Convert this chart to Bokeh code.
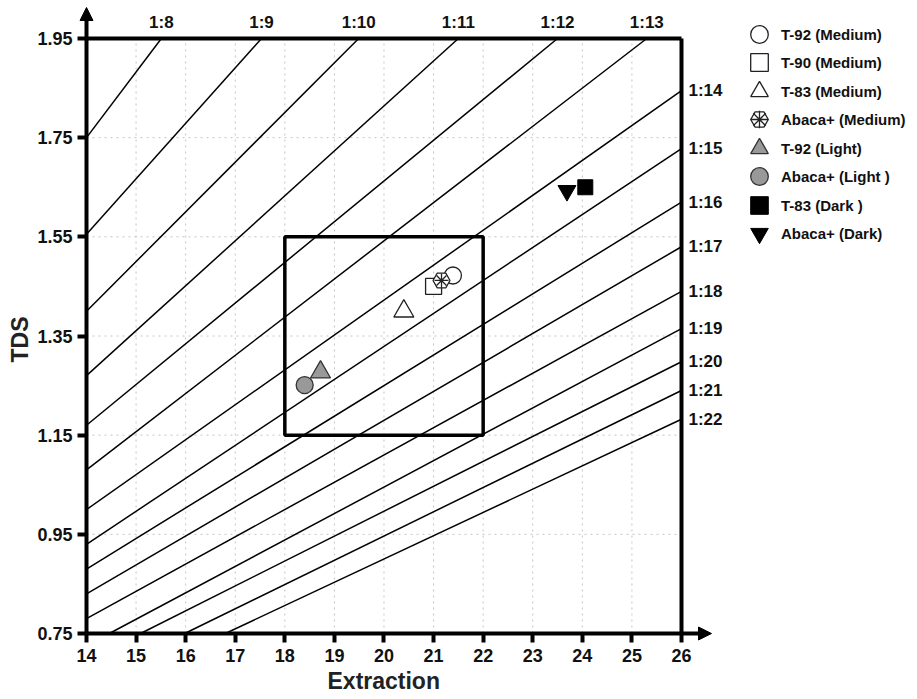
from bokeh.plotting import figure
from bokeh.models import (Range1d, FixedTicker, Arrow, NormalHead, Legend,
                          LegendItem, ColumnDataSource, Title)
from bokeh.core.properties import value
from bokeh.embed import file_html
from bokeh.resources import INLINE

# ---------------- data ----------------
x_ticks = [14, 15, 16, 17, 18, 19, 20, 21, 22, 23, 24, 25, 26]
y_ticks = [0.75, 0.95, 1.15, 1.35, 1.55, 1.75, 1.95]
y_tick_labels = ["0.75", "0.95", "1.15", "1.35", "1.55", "1.75", "1.95"]

ratio_labels = ["1:8", "1:9", "1:10", "1:11", "1:12", "1:13", "1:14", "1:15",
                "1:16", "1:17", "1:18", "1:19", "1:20", "1:21", "1:22"]
line_x0 = [14, 14, 14, 14, 14, 14, 14, 14, 14, 14, 14, 14.46, 15.09, 15.98, 16.8]
line_y0 = [1.75, 1.555, 1.40, 1.27, 1.17, 1.08, 1.0, 0.93, 0.88, 0.83, 0.78,
           0.75, 0.75, 0.75, 0.75]
line_x1 = [15.51, 17.53, 19.49, 21.5, 23.5, 25.3, 26, 26, 26, 26, 26, 26, 26, 26, 26]
line_y1 = [1.95, 1.95, 1.95, 1.95, 1.95, 1.95, 1.845, 1.728, 1.62, 1.53, 1.44,
           1.365, 1.298, 1.24, 1.182]

box_left, box_right, box_bottom, box_top = 18, 22, 1.15, 1.55

series_names = ["T-92 (Medium)", "T-90 (Medium)", "T-83 (Medium)", "Abaca+ (Medium)",
                "T-92 (Light)", "Abaca+ (Light )", "T-83 (Dark )", "Abaca+ (Dark)"]
series_x = [21.39, 21.0, 20.4, 21.16, 18.72, 18.40, 24.06, 23.69]
series_y = [1.472, 1.45, 1.40, 1.462, 1.277, 1.251, 1.65, 1.643]

# ---------------- layout ----------------
FONT = "Liberation Sans"
W, H = 916, 699
BL, BT = 77, 1                  # frame borders (px)
FRAME_BOTTOM = 642              # px from top of the page
BB = H - FRAME_BOTTOM
XPX, YPX = 49.583, 495.83       # px per data unit
TICK = 9                        # tick length (px)
x_lo, x_hi = x_ticks[0], x_ticks[-1]
y_lo, y_hi = y_ticks[0], y_ticks[-1]
x_start = x_lo - TICK / XPX
x_end = x_start + (W - BL) / XPX
y_start = y_lo - TICK / YPX
y_end = y_start + (H - BT - BB) / YPX

p = figure(width=W, height=H, x_range=Range1d(x_start, x_end),
           y_range=Range1d(y_start, y_end), title=None,
           output_backend="svg", toolbar_location=None,
           min_border_left=BL, min_border_right=0, min_border_top=BT,
           min_border_bottom=BB)
p.background_fill_color = "white"
p.border_fill_color = "white"
p.outline_line_color = None
p.xgrid.visible = False
p.ygrid.visible = False

# axes (ticks and labels); the axis lines themselves are drawn at 14 / 0.75
p.xaxis.ticker = FixedTicker(ticks=x_ticks)
p.yaxis.ticker = FixedTicker(ticks=y_ticks)
p.yaxis.major_label_overrides = {t: l for t, l in zip(y_ticks, y_tick_labels)}
for ax in (p.xaxis, p.yaxis):
    ax.axis_line_color = None
    ax.major_tick_line_width = 4
    ax.major_tick_line_color = "black"
    ax.major_tick_out = 0
    ax.major_tick_in = TICK
    ax.minor_tick_line_color = None
    ax.major_label_text_font = FONT
    ax.major_label_text_font_style = "bold"
    ax.major_label_text_font_size = "18px"
    ax.major_label_text_color = "#111111"
    ax.major_label_standoff = 5
p.xaxis.major_label_standoff = 6

# axis titles
p.add_layout(Title(text="Extraction", align="left", offset=250, standoff=3,
                   text_font=FONT, text_font_style="bold", text_font_size="23px",
                   text_color="#222222"), "below")
p.add_layout(Title(text="TDS", align="left", offset=280, standoff=4,
                   text_font=FONT, text_font_style="bold", text_font_size="23px",
                   text_color="#222222"), "left")

# dotted grid inside the chart area
gx = [t for t in x_ticks[1:-1]]
gy = [t for t in y_ticks[1:-1]]
p.segment(x0=gx, y0=[y_lo] * len(gx), x1=gx, y1=[y_hi] * len(gx),
          line_color="#c4c4c4", line_dash="dotted", line_width=1)
p.segment(x0=[x_lo] * len(gy), y0=gy, x1=[x_hi] * len(gy), y1=gy,
          line_color="#c4c4c4", line_dash="dotted", line_width=1)

# brew ratio lines
src = ColumnDataSource(dict(x0=line_x0, y0=line_y0, x1=line_x1, y1=line_y1))
p.segment("x0", "y0", "x1", "y1", source=src, line_color="black", line_width=1.5)

# ratio labels
top_src = ColumnDataSource(dict(
    x=[x for x, y in zip(line_x1, line_y1) if y >= y_hi],
    y=[y for y in line_y1 if y >= y_hi],
    t=[l for l, y in zip(ratio_labels, line_y1) if y >= y_hi]))
right_src = ColumnDataSource(dict(
    x=[x for x, y in zip(line_x1, line_y1) if y < y_hi],
    y=[y for y in line_y1 if y < y_hi],
    t=[l for l, y in zip(ratio_labels, line_y1) if y < y_hi]))
p.text("x", "y", text="t", source=top_src, text_align="center",
       text_baseline="middle", y_offset=-16, text_font=value(FONT),
       text_font_style="bold", text_font_size="17px", text_color="#111111")
p.text("x", "y", text="t", source=right_src, text_align="left",
       text_baseline="middle", x_offset=7, text_font=value(FONT),
       text_font_style="bold", text_font_size="17px", text_color="#111111")

# frame (top / right) and axis lines with arrows
p.segment(x0=[x_lo, x_hi], y0=[y_hi, y_lo], x1=[x_hi, x_hi], y1=[y_hi, y_hi],
          line_color="black", line_width=4)
p.add_layout(Arrow(end=NormalHead(size=13, fill_color="black", line_color="black",
                                  line_width=1),
                   x_start=x_lo, y_start=y_lo, x_end=x_lo, y_end=y_hi + 31 / YPX,
                   line_width=4, line_color="black"))
p.add_layout(Arrow(end=NormalHead(size=13, fill_color="black", line_color="black",
                                  line_width=1),
                   x_start=x_lo, y_start=y_lo, x_end=x_hi + 30 / XPX, y_end=y_lo,
                   line_width=4, line_color="black"))

# target box
p.quad(left=[box_left], right=[box_right], bottom=[box_bottom], top=[box_top],
       fill_alpha=0, line_color="black", line_width=3.5)

# markers
r0 = p.scatter([series_x[0]], [series_y[0]], marker="circle", size=17,
               fill_color="white", line_color="#222222", line_width=1.3)
r1 = p.scatter([series_x[1]], [series_y[1]], marker="square", size=16,
               fill_color="white", line_color="#222222", line_width=1.3)
r2 = p.scatter([series_x[2]], [series_y[2]], marker="triangle", size=20,
               fill_color="white", line_color="#222222", line_width=1.3)
r3a = p.scatter([series_x[3]], [series_y[3]], marker="hex", size=17,
                fill_color="white", line_color="#222222", line_width=1.3)
r3b = p.scatter([series_x[3]], [series_y[3]], marker="asterisk", size=14,
                line_color="#222222", line_width=1.3)
r4 = p.scatter([series_x[4]], [series_y[4]], marker="triangle", size=20,
               fill_color="#999999", line_color="#333333", line_width=1.3)
r5 = p.scatter([series_x[5]], [series_y[5]], marker="circle", size=17,
               fill_color="#999999", line_color="#333333", line_width=1.3)
r6 = p.scatter([series_x[6]], [series_y[6]], marker="square", size=15,
               fill_color="black", line_color="black", line_width=1)
r7 = p.scatter([series_x[7]], [series_y[7]], marker="inverted_triangle", size=18,
               fill_color="black", line_color="black", line_width=1)
groups = [[r0], [r1], [r2], [r3a, r3b], [r4], [r5], [r6], [r7]]

# legend: two interleaved columns of items (odd / even rows) so that the
# legend glyphs can be large while the rows stay close together
GLYPH = 44
PITCH = 57                      # px between rows of one legend (2 rows of the picture)
LEG_LEFT = 660                  # px from frame left
FIRST_TOP = 12                  # px from page top to the first glyph box
for k in range(2):
    idx = list(range(k, len(series_names), 2))
    lg = Legend(items=[LegendItem(label=series_names[i], renderers=groups[i]) for i in idx])
    lg.border_line_alpha = 0
    lg.background_fill_alpha = 0
    lg.label_text_font = FONT
    lg.label_text_font_style = "bold"
    lg.label_text_font_size = "15px"
    lg.label_text_color = "#111111"
    lg.padding = 0
    lg.margin = 0
    lg.glyph_width = GLYPH
    lg.glyph_height = GLYPH
    lg.label_height = 20
    lg.spacing = PITCH - GLYPH
    lg.label_standoff = 0
    height = len(idx) * GLYPH + (len(idx) - 1) * (PITCH - GLYPH)
    top = FIRST_TOP + k * (PITCH // 2)
    lg.location = (LEG_LEFT, FRAME_BOTTOM - (top + height))
    p.add_layout(lg)

open("out.html", "w").write(file_html(p, INLINE))
